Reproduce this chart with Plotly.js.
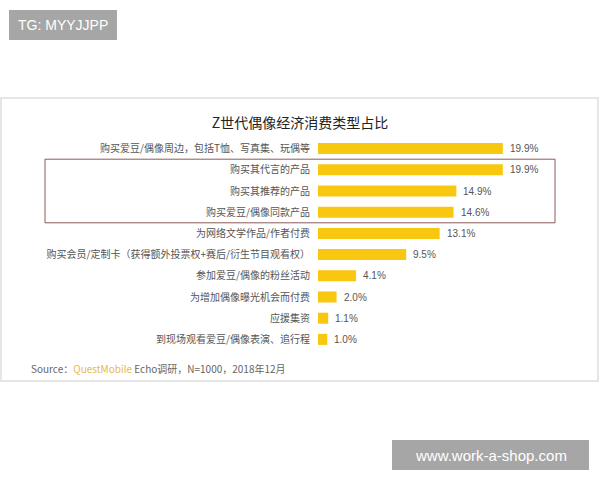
<!DOCTYPE html>
<html>
<head>
<meta charset="utf-8">
<script src="https://cdn.plot.ly/plotly-3.0.1.min.js"></script>
<style>
html,body{margin:0;padding:0;background:#fff;}
#chart{width:600px;height:480px;}
</style>
</head>
<body>
<div id="chart"></div>
<script>
const categories = [
  "购买爱豆/偶像周边，包括T恤、写真集、玩偶等",
  "购买其代言的产品",
  "购买其推荐的产品",
  "购买爱豆/偶像同款产品",
  "为网络文学作品/作者付费",
  "购买会员/定制卡（获得额外投票权+赛后/衍生节目观看权）",
  "参加爱豆/偶像的粉丝活动",
  "为增加偶像曝光机会而付费",
  "应援集资",
  "到现场观看爱豆/偶像表演、追行程"
];
const values = [19.9, 19.9, 14.9, 14.6, 13.1, 9.5, 4.1, 2.0, 1.1, 1.0];
const valueLabels = ["19.9%", "19.9%", "14.9%", "14.6%", "13.1%", "9.5%", "4.1%", "2.0%", "1.1%", "1.0%"];
const chartTitle = "Z世代偶像经济消费类型占比";
const sourceText = 'Source：<span style="color:#e8b84a">QuestMobile</span> Echo调研，N=1000，2018年12月';

const FONT = '"Noto Sans CJK SC", "Liberation Sans", sans-serif';

// pixel helpers for plot area l=318, w=260, t=138, h=212
const L = 318, W = 260, T = 138, H = 212;
const px = x => (x - L) / W;
const py = y => (T + H - y) / H;

const trace = {
  type: 'bar',
  orientation: 'h',
  y: categories,
  x: values,
  marker: {color: '#f8c70f'},
  hoverinfo: 'skip'
};

const annotations = values.map((v, i) => ({
  x: v, y: categories[i], xref: 'x', yref: 'y',
  text: valueLabels[i], showarrow: false,
  xanchor: 'left', xshift: 5,
  font: {family: '"Liberation Sans", Arial, sans-serif', size: 10, color: '#555'}
}));

annotations.push({
  xref: 'paper', yref: 'paper', x: px(29), y: py(368),
  xanchor: 'left', yanchor: 'middle', showarrow: false,
  text: sourceText,
  font: {family: FONT, size: 10, color: '#666'}
});
annotations.push({
  xref: 'paper', yref: 'paper', x: px(63), y: py(25),
  xanchor: 'center', yanchor: 'middle', showarrow: false,
  text: 'TG: MYYJJPP',
  font: {family: '"Liberation Sans", Arial, sans-serif', size: 14, color: '#fff'}
});
annotations.push({
  xref: 'paper', yref: 'paper', x: px(491), y: py(455),
  xanchor: 'center', yanchor: 'middle', showarrow: false,
  text: 'www.work-a-shop.com',
  font: {family: '"Liberation Sans", Arial, sans-serif', size: 15, color: '#fff'}
});

const shapes = [
  {type: 'rect', xref: 'paper', yref: 'paper', x0: px(1), x1: px(598), y0: py(98), y1: py(381),
   line: {color: '#dedede', width: 1.5}, fillcolor: 'rgba(0,0,0,0)', layer: 'below'},
  {type: 'rect', xref: 'paper', yref: 'y', x0: px(45), x1: px(555), y0: 0.5, y1: 3.5,
   line: {color: '#8c5a5a', width: 1}, fillcolor: 'rgba(0,0,0,0)'},
  {type: 'rect', xref: 'paper', yref: 'paper', x0: px(9), x1: px(117), y0: py(10), y1: py(40),
   line: {width: 0}, fillcolor: '#a6a6a6'},
  {type: 'rect', xref: 'paper', yref: 'paper', x0: px(392), x1: px(589), y0: py(440), y1: py(470),
   line: {width: 0}, fillcolor: '#a6a6a6'}
];

const layout = {
  width: 600, height: 480,
  margin: {l: L, r: 600 - L - W, t: T, b: 480 - T - H},
  paper_bgcolor: '#fff', plot_bgcolor: 'rgba(0,0,0,0)',
  showlegend: false,
  bargap: 0.48,
  title: {
    text: chartTitle,
    x: 0.5, xref: 'container', xanchor: 'center',
    y: 1 - 123 / 480, yref: 'container', yanchor: 'middle',
    font: {family: FONT, size: 14, color: '#222', weight: 'normal'}
  },
  xaxis: {range: [0, 28], visible: false, fixedrange: true},
  yaxis: {
    type: 'category', autorange: 'reversed',
    showgrid: false, zeroline: false, showline: false, ticks: '',
    ticklabelstandoff: 7,
    tickfont: {family: FONT, size: 10, color: '#555'}
  },
  shapes: shapes,
  annotations: annotations
};

Plotly.newPlot('chart', [trace], layout, {displayModeBar: false, staticPlot: true});
</script>
</body>
</html>
